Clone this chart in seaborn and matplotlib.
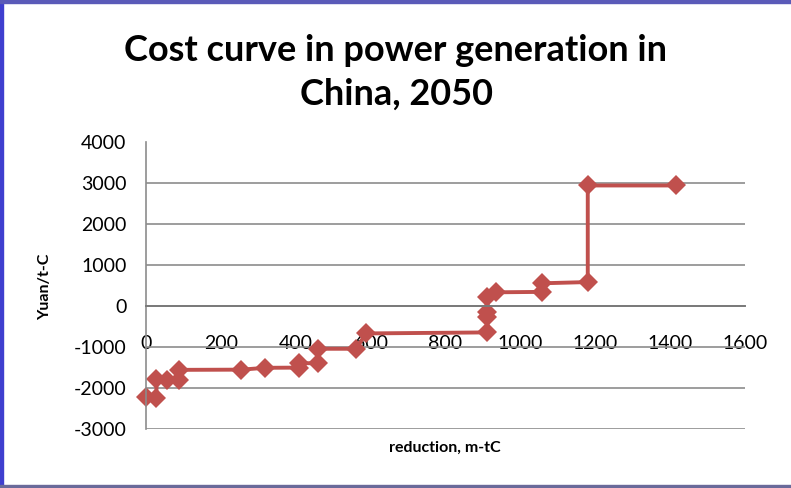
import matplotlib
matplotlib.use('Agg')
import matplotlib.pyplot as plt
import seaborn as sns
from matplotlib.patches import Rectangle

# 감축량 (m-tC) 과 비용 (Yuan/t-C) - 계단형 비용 곡선
reduction = [0, 28, 28, 55, 88, 88, 255, 318, 408, 408, 460, 460,
             562, 587, 912, 912, 912, 912, 936, 1057, 1057, 1180, 1180, 1415]
cost = [-2225, -2240, -1790, -1810, -1810, -1555, -1550, -1505, -1500, -1390, -1395, -1040,
        -1040, -665, -640, -270, -150, 215, 340, 350, 560, 590, 2950, 2950]

x_ticks = [0, 200, 400, 600, 800, 1000, 1200, 1400, 1600]
y_ticks = [-3000, -2000, -1000, 0, 1000, 2000, 3000, 4000]

TITLE = 'Cost curve in power generation in\nChina, 2050'
X_LABEL = 'reduction, m-tC'
Y_LABEL = 'Yuan/t-C'

sns.set_style('white')
plt.rcParams['font.family'] = ['Lato', 'DejaVu Sans']
plt.rcParams['axes.unicode_minus'] = False

fig = plt.figure(figsize=(7.91, 4.88), dpi=100)
ax = fig.add_axes([146 / 791, 1 - 429 / 488, (745 - 146) / 791, (429 - 142.5) / 488])

# estimator=None 으로 같은 x 값도 집계하지 않고 그대로 그림
sns.lineplot(x=reduction, y=cost, sort=False, estimator=None, errorbar=None,
             ax=ax, color='#C0504D', linewidth=2.8, marker='D', markersize=10,
             markeredgewidth=0)
for line in ax.lines:
    line.set_clip_on(False)

ax.set_xlim(0, 1600)
ax.set_ylim(-3000, 4000)
ax.set_xticks(x_ticks)
ax.set_yticks(y_ticks)
ax.grid(axis='y', color='#8c8c8c', linewidth=1.2)
ax.grid(axis='x', visible=False)
ax.set_axisbelow(True)

for side in ['top', 'right']:
    ax.spines[side].set_visible(False)
ax.spines['left'].set_color('#8c8c8c')
ax.spines['left'].set_linewidth(1.2)
ax.spines['bottom'].set_position(('data', 0))
ax.spines['bottom'].set_color('#7a7a7a')
ax.spines['bottom'].set_linewidth(1.4)

ax.tick_params(axis='x', length=0, pad=21, labelsize=14, labelcolor='black')
ax.tick_params(axis='y', length=0, pad=14, labelsize=14, labelcolor='black')

ax.set_xlabel('')
ax.set_ylabel('')
fig.text(445 / 791, 1 - 448 / 488, X_LABEL, ha='center', va='center',
         fontsize=11.5, fontweight='bold', color='black')
fig.text(45 / 791, 1 - 287 / 488, Y_LABEL, ha='center', va='center',
         rotation=90, fontsize=11.5, fontweight='bold', color='black')
fig.text(396 / 791, 1 - 72 / 488, TITLE, ha='center', va='center',
         fontsize=26, fontweight='bold', linespacing=1.4, color='black')

# 바깥 테두리
fig.patches.append(Rectangle((0, 0), 3 / 791, 1, transform=fig.transFigure,
                             color='#3f3fcf', zorder=10))
fig.patches.append(Rectangle((0, 1 - 3 / 488), 1, 3 / 488, transform=fig.transFigure,
                             color='#5a5ab8', zorder=10))
fig.patches.append(Rectangle((0, 0), 1, 3 / 488, transform=fig.transFigure,
                             color='#6a6a9a', zorder=10))

fig.savefig('out.png', dpi=100)
